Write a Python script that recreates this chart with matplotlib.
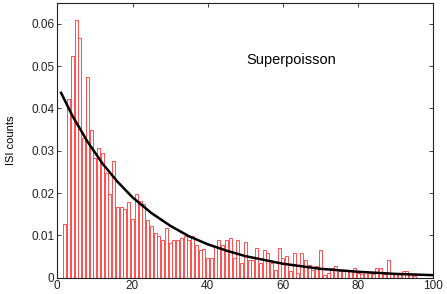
import numpy as np
import matplotlib
matplotlib.use("Agg")
import matplotlib.pyplot as plt

# ISI histogram bin centers and normalized counts
bin_centers = list(range(2, 96))
isi_counts = [
    0.0126, 0.0422, 0.0524, 0.0608, 0.0566, 0.0331, 0.0475, 0.0348, 0.0284, 0.0306,  # 2-11
    0.0295, 0.0247, 0.0197, 0.0275, 0.0167, 0.0167, 0.0162, 0.0179, 0.0138, 0.0197,  # 12-21
    0.0182, 0.0174, 0.0136, 0.0122, 0.0106, 0.0099, 0.0089, 0.0118, 0.0083, 0.0089,  # 22-31
    0.0089, 0.0095, 0.0099, 0.0089, 0.0099, 0.0077, 0.0065, 0.0069, 0.0046, 0.0046,  # 32-41
    0.0075, 0.0089, 0.0077, 0.0089, 0.0095, 0.0046, 0.0089, 0.0034, 0.0084, 0.0042,  # 42-51
    0.0042, 0.0071, 0.0034, 0.0065, 0.0059, 0.0034, 0.0018, 0.0071, 0.0046, 0.0052,  # 52-61
    0.0016, 0.0059, 0.0010, 0.0059, 0.0042, 0.0030, 0.0018, 0.0028, 0.0066, 0.0006,  # 62-71
    0.0011, 0.0022, 0.0028, 0.0016, 0.0017, 0.0017, 0.0016, 0.0022, 0.0010, 0.0009,  # 72-81
    0.0016, 0.0012, 0.0009, 0.0022, 0.0022, 0.0009, 0.0042, 0.0012, 0.0012, 0.0012,  # 82-91
    0.0016, 0.0016, 0.0009, 0.0004,                                                  # 92-95
]

# Exponential fit curve
fit_x = [1, 4, 8, 12, 16, 20, 25, 30, 35, 40, 45, 50, 60, 70, 80, 90, 100]
fit_y = [0.0437, 0.0383, 0.0322, 0.0270, 0.0227, 0.0190, 0.0153, 0.0123, 0.0098,
         0.0079, 0.0064, 0.0051, 0.0033, 0.0021, 0.0014, 0.0009, 0.0006]

x_ticks = [0, 20, 40, 60, 80, 100]
y_ticks = [0, 0.01, 0.02, 0.03, 0.04, 0.05, 0.06]
y_ticklabels = ["0", "0.01", "0.02", "0.03", "0.04", "0.05", "0.06"]

plt.rcParams['font.family'] = ['Liberation Sans', 'DejaVu Sans']

fig = plt.figure(figsize=(4.47, 2.94), dpi=100)
ax = fig.add_axes([57.3 / 447, 1 - 277.7 / 294, (433.3 - 57.3) / 447, (277.7 - 2.7) / 294])

ax.bar(bin_centers, isi_counts, width=0.8, facecolor='white', edgecolor='#ff4d4d',
       linewidth=0.7, zorder=2)
ax.plot(fit_x, fit_y, color='black', linewidth=1.8, zorder=3)

ax.set_xlim(0, 100)
ax.set_ylim(0, 0.065)
ax.set_xticks(x_ticks)
ax.set_xticklabels([str(v) for v in x_ticks])
ax.set_yticks(y_ticks)
ax.set_yticklabels(y_ticklabels)
ax.tick_params(direction='in', length=3, width=0.6, labelsize=8.5, colors='#222222',
               top=True, right=True, pad=2)
for s in ax.spines.values():
    s.set_linewidth(0.8)
    s.set_color('#222222')

ax.set_ylabel("ISI counts", fontsize=8, labelpad=11)
ax.text(50.2, 0.0515, "Superpoisson", fontsize=10.5, ha='left', va='center')

fig.savefig("out.png", dpi=100)
